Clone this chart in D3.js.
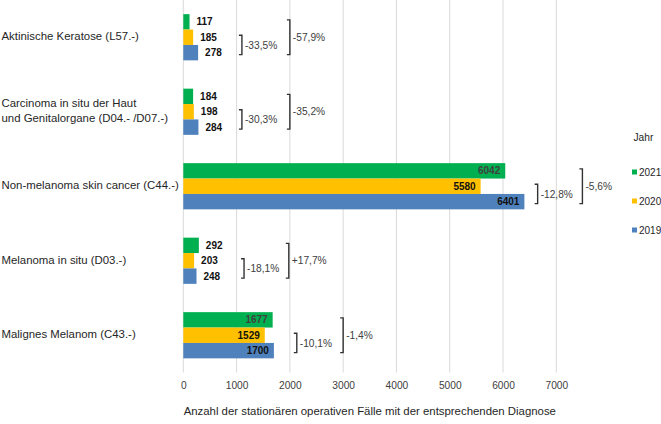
<!DOCTYPE html>
<html><head><meta charset="utf-8">
<script src="https://cdn.jsdelivr.net/npm/d3@7/dist/d3.min.js"></script>
<style>body{margin:0;background:#fff}svg{display:block;font-family:"Liberation Sans",Arial,sans-serif}</style>
</head><body><svg id="c" width="661" height="424"></svg>
<script>
const categories = [
  ["Aktinische Keratose (L57.-)"],
  ["Carcinoma in situ der Haut", "und Genitalorgane (D04.- /D07.-)"],
  ["Non-melanoma skin cancer (C44.-)"],
  ["Melanoma in situ (D03.-)"],
  ["Malignes Melanom (C43.-)"]
];
const catKeys = categories.map(c => c.join(" "));
const years = ["2021", "2020", "2019"];
const values2021 = [117, 184, 6042, 292, 1677];
const values2020 = [185, 198, 5580, 203, 1529];
const values2019 = [278, 284, 6401, 248, 1700];
const xTicks = [0, 1000, 2000, 3000, 4000, 5000, 6000, 7000];
const colors = {"2021": "#00b050", "2020": "#ffc000", "2019": "#4f81bd"};
// change annotations: [category index, from-year, to-year, bracket position (axis units), label]
const changes = [
  [0, "2020", "2019", 1100, "-33,5%"], [0, "2021", "2019", 2000, "-57,9%"],
  [1, "2020", "2019", 1100, "-30,3%"], [1, "2021", "2019", 2000, "-35,2%"],
  [2, "2020", "2019", 6650, "-12,8%"], [2, "2021", "2019", 7490, "-5,6%"],
  [3, "2020", "2019", 1140, "-18,1%"], [3, "2021", "2019", 1980, "+17,7%"],
  [4, "2020", "2019", 2130, "-10,1%"], [4, "2021", "2019", 3000, "-1,4%"]
];

const seriesVals = {"2021": values2021, "2020": values2020, "2019": values2019};
const svg = d3.select("#c");
const x = d3.scaleLinear().domain([0, 7000]).range([183.3, 556.3]);
const y = d3.scaleBand().domain(catKeys).range([0, 372.5]).paddingInner(0.38).paddingOuter(0.19);
const yi = d3.scaleBand().domain(years).range([0, y.bandwidth()]);

// gridlines
svg.append("g").selectAll("line").data(xTicks).join("line")
  .attr("x1", d => x(d)).attr("x2", d => x(d)).attr("y1", 0).attr("y2", 372.5)
  .attr("stroke", "#d9d9d9").attr("stroke-width", 1);

// x axis labels
const xa = svg.append("g").attr("transform", "translate(0,385)")
  .call(d3.axisBottom(x).tickValues(xTicks).tickSize(0).tickPadding(0).tickFormat(d3.format("d")));
xa.select(".domain").remove();
xa.selectAll("text").attr("font-size", 10.2).attr("fill", "#404040")
  .attr("font-family", "Liberation Sans, Arial, sans-serif").attr("dy", "0.35em");

// category labels
const cl = svg.append("g").selectAll("text").data(categories).join("text")
  .attr("font-size", 11.4).attr("fill", "#262626")
  .attr("y", (d, i) => y(catKeys[i]) + y.bandwidth() / 2 - 1);
cl.each(function(d) {
  const t = d3.select(this);
  d.forEach((line, j) => {
    t.append("tspan").attr("x", 1.5).attr("dy", j === 0 ? (0.35 - (d.length - 1) * 0.65) + "em" : "1.3em").text(line);
  });
});

// bars
const barData = [];
catKeys.forEach((c, i) => years.forEach(yr => barData.push({c, yr, v: seriesVals[yr][i]})));
svg.append("g").selectAll("rect").data(barData).join("rect")
  .attr("x", x(0)).attr("y", d => y(d.c) + yi(d.yr))
  .attr("width", d => x(d.v) - x(0)).attr("height", yi.bandwidth())
  .attr("fill", d => colors[d.yr]);

// value labels
svg.append("g").selectAll("text").data(barData).join("text")
  .attr("font-size", 10).attr("font-weight", "bold")
  .attr("x", d => d.v >= 1000 ? x(d.v) - 5 : x(d.v) + 7)
  .attr("text-anchor", d => d.v >= 1000 ? "end" : "start")
  .attr("y", d => y(d.c) + yi(d.yr) + yi.bandwidth() / 2).attr("dy", "0.35em")
  .attr("fill", d => (d.v >= 1000 && d.yr === "2021") ? "#404040" : "#111")
  .text(d => d.v);

// change brackets
const bg = svg.append("g");
changes.forEach(([ci, from, to, pos, label]) => {
  const c = catKeys[ci];
  const y1 = y(c) + yi(from) + yi.bandwidth() / 2 - 2;
  const y2 = y(c) + yi(to) + yi.bandwidth() / 2 + 2;
  const bx = x(pos);
  bg.append("path").attr("d", `M${bx - 3},${y1}H${bx}V${y2}H${bx - 3}`)
    .attr("fill", "none").attr("stroke", "#333").attr("stroke-width", 1.4);
  bg.append("text").attr("x", bx + 3).attr("y", (y1 + y2) / 2).attr("dy", "0.35em")
    .attr("font-size", 10.2).attr("fill", "#404040").text(label);
});

// axis title
svg.append("text").attr("x", x(3500)).attr("y", 411).attr("dy", "0.35em").attr("text-anchor", "middle")
  .attr("font-size", 11.4).attr("fill", "#262626")
  .text("Anzahl der stationären operativen Fälle mit der entsprechenden Diagnose");

// legend
const lg = svg.append("g");
lg.append("text").attr("x", 633.5).attr("y", 137).attr("dy", "0.35em").attr("font-size", 10.2).attr("fill", "#262626").text("Jahr");
const legendY = d3.scalePoint().domain(years).range([172, 230]);
years.forEach(yr => {
  lg.append("rect").attr("x", 632).attr("y", legendY(yr) - 2.5).attr("width", 5).attr("height", 5).attr("fill", colors[yr]);
  lg.append("text").attr("x", 639).attr("y", legendY(yr)).attr("dy", "0.35em").attr("font-size", 10).attr("fill", "#262626").text(yr);
});
</script></body></html>
